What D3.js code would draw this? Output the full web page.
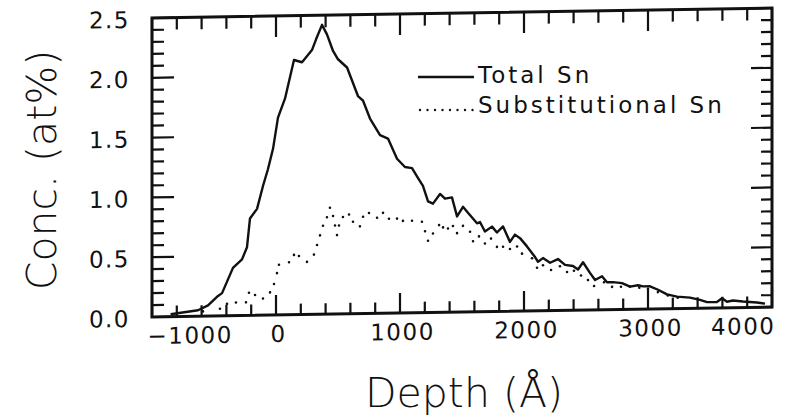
<!DOCTYPE html>
<html>
<head>
<meta charset="utf-8">
<script src="https://cdn.jsdelivr.net/npm/d3@7"></script>
<style>
  body { margin: 0; background: #fff; }
  svg text { font-family: "DejaVu Sans", sans-serif; fill: #111; }
</style>
</head>
<body>
<div id="chart"></div>
<script>
// depth in Angstrom, concentration in at%
const totalDepth = [-850, -629, -548, -476, -435, -347, -274, -234, -210, -153, -105, -65, -24, 16, 73, 145, 210, 290, 323, 371, 411, 460, 500, 573, 661, 702, 758, 839, 903, 976, 1040, 1097, 1137, 1185, 1226, 1266, 1323, 1363, 1419, 1460, 1508, 1548, 1621, 1645, 1685, 1742, 1782, 1831, 1887, 1927, 1968, 2024, 2089, 2113, 2153, 2210, 2274, 2331, 2395, 2436, 2476, 2532, 2573, 2629, 2669, 2718, 2790, 2855, 2919, 2960, 3016, 3081, 3153, 3234, 3339, 3419, 3476, 3556, 3597, 3637, 3685, 3766, 3879, 3944];
const totalConc = [0.02, 0.05, 0.09, 0.16, 0.19, 0.40, 0.47, 0.57, 0.81, 0.89, 1.08, 1.22, 1.39, 1.65, 1.81, 2.13, 2.11, 2.21, 2.30, 2.42, 2.34, 2.20, 2.13, 2.06, 1.82, 1.78, 1.63, 1.49, 1.46, 1.29, 1.22, 1.21, 1.14, 1.06, 0.93, 0.91, 0.99, 0.95, 0.96, 0.80, 0.88, 0.83, 0.74, 0.75, 0.67, 0.71, 0.66, 0.71, 0.58, 0.64, 0.61, 0.54, 0.45, 0.41, 0.44, 0.40, 0.43, 0.38, 0.37, 0.34, 0.40, 0.31, 0.25, 0.28, 0.23, 0.23, 0.22, 0.19, 0.20, 0.19, 0.19, 0.16, 0.12, 0.10, 0.09, 0.07, 0.05, 0.05, 0.08, 0.05, 0.06, 0.05, 0.04, 0.03];

const subDepth = [-589, -452, -395, -323, -242, -218, -169, -105, -48, -16, 8, 24, 105, 145, 185, 250, 306, 331, 355, 379, 411, 435, 460, 476, 492, 508, 540, 589, 621, 677, 702, 750, 815, 863, 911, 976, 1024, 1097, 1177, 1202, 1226, 1266, 1315, 1347, 1387, 1427, 1460, 1508, 1565, 1589, 1637, 1685, 1734, 1782, 1831, 1887, 1944, 1984, 2065, 2105, 2153, 2218, 2290, 2347, 2403, 2460, 2516, 2565, 2645, 2710, 2782, 2855, 2930, 3000, 3080, 3160, 3240];
const subConc = [0.04, 0.06, 0.10, 0.11, 0.11, 0.19, 0.17, 0.14, 0.19, 0.26, 0.35, 0.42, 0.44, 0.50, 0.49, 0.44, 0.50, 0.58, 0.66, 0.74, 0.81, 0.89, 0.82, 0.74, 0.66, 0.74, 0.81, 0.83, 0.77, 0.73, 0.81, 0.84, 0.80, 0.84, 0.79, 0.79, 0.77, 0.77, 0.76, 0.68, 0.60, 0.66, 0.73, 0.71, 0.70, 0.72, 0.66, 0.72, 0.67, 0.59, 0.63, 0.57, 0.61, 0.54, 0.54, 0.52, 0.54, 0.48, 0.44, 0.36, 0.38, 0.34, 0.37, 0.32, 0.33, 0.29, 0.25, 0.20, 0.23, 0.19, 0.19, 0.19, 0.18, 0.17, 0.14, 0.11, 0.09];

const xLabels = [-1000, 0, 1000, 2000, 3000, 4000];
const yLabels = [0.0, 0.5, 1.0, 1.5, 2.0, 2.5];
const legendNames = ['Total Sn', 'Substitutional Sn'];

const W = 794, H = 417;
const m = { left: 152, right: 772, top: 18, bottom: 317 };

const x = d3.scaleLinear().domain([-1000, 4000]).range([m.left, m.right]);
const y = d3.scaleLinear().domain([0, 2.5]).range([m.bottom, m.top]);

const svg = d3.select('#chart').append('svg')
  .attr('width', W).attr('height', H);

// the scanned plot is tilted a little, right side higher
const g = svg.append('g')
  .attr('transform', `translate(${m.left},0) skewY(-0.92) translate(${-m.left},0)`);

g.append('rect')
  .attr('x', m.left).attr('y', m.top)
  .attr('width', m.right - m.left).attr('height', m.bottom - m.top)
  .attr('fill', 'none').attr('stroke', '#111').attr('stroke-width', 3);

const xMinor = d3.range(-1000, 4001, 200);
const yMinor = d3.range(0, 26).map(i => i / 10);
const xMaj = v => v % 1000 === 0;
const yMaj = v => Math.abs(v * 2 - Math.round(v * 2)) < 1e-6;

// inward ticks on all four sides, one path
let td = '';
xMinor.forEach(v => {
  const px = x(v), len = xMaj(v) ? 20 : 11;
  td += `M${px},${m.bottom}V${m.bottom - len}`;
  td += `M${px},${m.top}V${m.top + len + 1}`;
});
yMinor.forEach(v => {
  const py = y(v), len = yMaj(v) ? 22 : 12;
  td += `M${m.left},${py}H${m.left + len}`;
  td += `M${m.right},${py}H${m.right - len + 1}`;
});
g.append('path')
  .attr('d', td)
  .attr('fill', 'none')
  .attr('stroke', '#111')
  .attr('stroke-width', 2.2);

// tick labels
const xa = g.append('g').attr('transform', `translate(0,${m.bottom})`)
  .call(d3.axisBottom(x).tickValues(xLabels).tickSize(0).tickPadding(27)
    .tickFormat(d3.format('d')));
xa.select('.domain').remove();
xa.selectAll('text')
  .attr('font-size', 23).attr('letter-spacing', 1.5)
  .attr('dy', 0)
  .attr('text-anchor', d => d === -1000 ? 'start' : d === 4000 ? 'end' : 'middle')
  .attr('x', d => d === -1000 ? -5 : d === 4000 ? 3 : 2);

const ya = g.append('g').attr('transform', `translate(${m.left},0)`)
  .call(d3.axisLeft(y).tickValues(yLabels).tickSize(0).tickPadding(22)
    .tickFormat(d3.format('.1f')));
ya.select('.domain').remove();
ya.selectAll('text')
  .attr('font-size', 23).attr('letter-spacing', 1.5)
  .attr('dy', 9);

// data
const line = d3.line().x(d => x(d[0])).y(d => y(d[1]));
g.append('path')
  .datum(d3.zip(totalDepth, totalConc))
  .attr('d', line)
  .attr('fill', 'none').attr('stroke', '#111')
  .attr('stroke-width', 2.4).attr('stroke-linejoin', 'round');

g.selectAll('.sub')
  .data(d3.zip(subDepth, subConc))
  .join('circle')
  .attr('class', 'sub')
  .attr('cx', d => x(d[0])).attr('cy', d => y(d[1]))
  .attr('r', 1.3).attr('fill', '#111');

// axis titles
svg.append('text')
  .attr('transform', 'translate(56,170) rotate(-90)')
  .attr('text-anchor', 'middle')
  .attr('font-size', 41).attr('font-weight', 300)
  .text('Conc.  (at%)');

svg.append('text')
  .attr('x', 464).attr('y', 407)
  .attr('text-anchor', 'middle')
  .attr('font-size', 41).attr('font-weight', 300)
  .text('Depth  (Å)');

// legend
const leg = svg.append('g');
leg.append('line')
  .attr('x1', 418).attr('x2', 474).attr('y1', 77).attr('y2', 77)
  .attr('stroke', '#111').attr('stroke-width', 2.4);
leg.selectAll('.ldot')
  .data(d3.range(420, 474, 7.5))
  .join('circle')
  .attr('class', 'ldot')
  .attr('cx', d => d).attr('cy', 110).attr('r', 1.2).attr('fill', '#111');
leg.selectAll('.ltext')
  .data(legendNames)
  .join('text')
  .attr('class', 'ltext')
  .attr('x', 478).attr('y', (d, i) => i === 0 ? 83 : 113)
  .attr('font-size', 23).attr('letter-spacing', 3)
  .text(d => d);
</script>
</body>
</html>
